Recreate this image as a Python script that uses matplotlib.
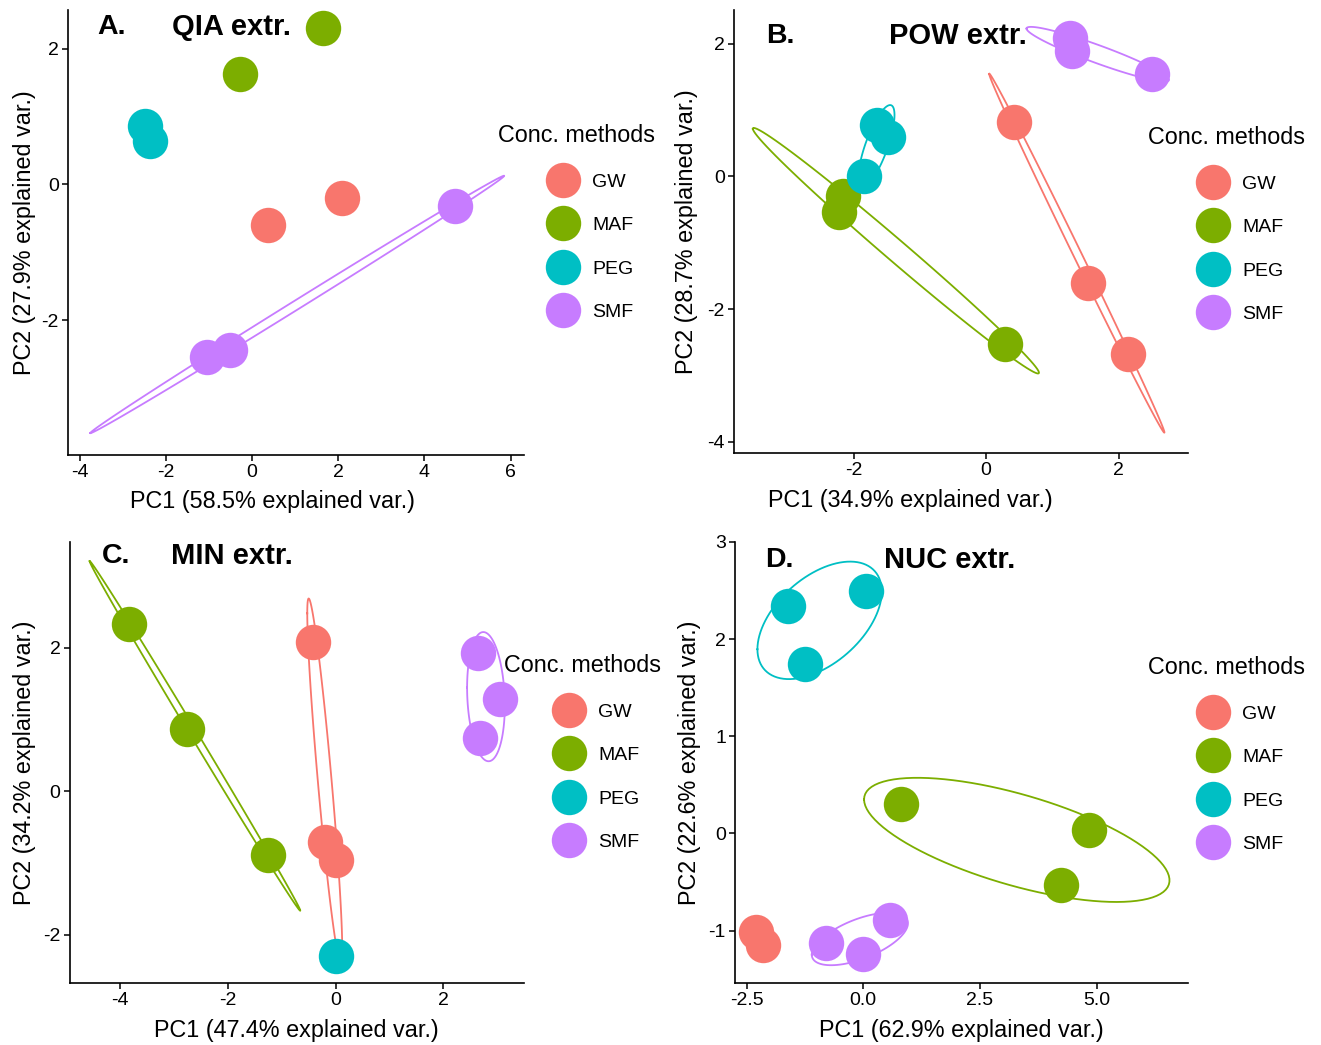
import numpy as np
import matplotlib.pyplot as plt
from matplotlib.lines import Line2D

plt.rcParams['font.family'] = ['Liberation Sans', 'DejaVu Sans']
plt.rcParams['axes.unicode_minus'] = False

W, H = 1321, 1045

methods = ["GW", "MAF", "PEG", "SMF"]
colors = ["#F8766D", "#7CAE00", "#00BFC4", "#C77CFF"]

# PCA scores, one list per method (GW, MAF, PEG, SMF)
qia_pc1 = [[2.08, 0.38], [1.65, -0.28], [-2.48, -2.37], [4.71, -1.05, -0.51]]
qia_pc2 = [[-0.20, -0.60], [2.31, 1.62], [0.86, 0.64], [-0.32, -2.55, -2.44]]

pow_pc1 = [[0.42, 1.54, 2.15], [-2.16, -2.22, 0.29], [-1.65, -1.48, -1.84], [1.26, 1.29, 2.51]]
pow_pc2 = [[0.82, -1.61, -2.68], [-0.30, -0.53, -2.53], [0.78, 0.60, 0.00], [2.09, 1.89, 1.55]]

min_pc1 = [[-0.42, -0.19, 0.01], [-3.83, -2.75, -1.25], [0.01], [2.64, 3.06, 2.68]]
min_pc2 = [[2.08, -0.70, -0.96], [2.33, 0.87, -0.89], [-2.29], [1.93, 1.28, 0.74]]

nuc_pc1 = [[-2.31, -2.14], [0.81, 4.83, 4.23], [-1.62, 0.06, -1.25], [-0.79, 0.00, 0.57]]
nuc_pc2 = [[-1.01, -1.15], [0.30, 0.03, -0.53], [2.34, 2.50, 1.74], [-1.13, -1.24, -0.89]]

letters = ["A.", "B.", "C.", "D."]
extractions = ["QIA extr.", "POW extr.", "MIN extr.", "NUC extr."]
pc1_var = [58.5, 34.9, 47.4, 62.9]
pc2_var = [27.9, 28.7, 34.2, 22.6]

panels = [(qia_pc1, qia_pc2), (pow_pc1, pow_pc2), (min_pc1, min_pc2), (nuc_pc1, nuc_pc2)]

# layout in pixels: left, top, right, bottom
boxes = [(68, 10, 524, 455), (734, 10, 1188, 453), (69.5, 542, 524, 983), (735, 542, 1188, 983)]
xlims = [(-4.27, 6.31), (-3.81, 3.05), (-4.94, 3.5), (-2.75, 6.96)]
ylims = [(-3.99, 2.57), (-4.17, 2.51), (-2.67, 3.47), (-1.54, 3.0)]
xticks = [[-4, -2, 0, 2, 4, 6], [-2, 0, 2], [-4, -2, 0, 2], [-2.5, 0, 2.5, 5.0]]
yticks = [[-2, 0, 2], [-4, -2, 0, 2], [-2, 0, 2], [-1, 0, 1, 2, 3]]
xlab_x = [273, 910, 296, 961]   # centre of the PC1 label, px
ylab_x = [25, 687, 25, 690]
letter_pos = [(97, 27), (766, 36), (102, 556), (765, 560)]
title_pos = [(172, 27), (889, 36), (171, 556), (884, 560)]
legend_pos = [(498, 135), (1148, 137), (504, 665), (1148, 667)]

ED = np.sqrt(-2 * np.log(1 - 0.68))  # sqrt(qchisq(0.68, 2))


def ellipse(x, y):
    # normal-probability ellipse as ggbiplot draws it
    pts = np.column_stack([x, y])
    sigma = np.cov(pts.T)
    mu = pts.mean(axis=0)
    theta = np.linspace(-np.pi, np.pi, 100)
    circle = np.column_stack([np.cos(theta), np.sin(theta)])
    ell = circle @ np.linalg.cholesky(sigma).T * ED + mu
    return ell[:, 0], ell[:, 1]


fig = plt.figure(figsize=(W / 100, H / 100), dpi=100)

for i, (pc1, pc2) in enumerate(panels):
    l, t, r, b = boxes[i]
    ax = fig.add_axes([l / W, 1 - b / H, (r - l) / W, (b - t) / H])
    for k, m in enumerate(methods):
        ax.plot(pc1[k], pc2[k], 'o', ms=25.5, mew=0, color=colors[k], zorder=3)
        if len(pc1[k]) > 2:
            ex, ey = ellipse(pc1[k], pc2[k])
            ax.plot(ex, ey, color=colors[k], lw=1.3, zorder=2)
    ax.set_xlim(*xlims[i])
    ax.set_ylim(*ylims[i])
    ax.set_xticks(xticks[i])
    ax.set_yticks(yticks[i])
    if i == 3:
        ax.set_xticklabels([f"{v:.1f}" for v in xticks[i]])
    for s in ['top', 'right']:
        ax.spines[s].set_visible(False)
    for s in ['left', 'bottom']:
        ax.spines[s].set_linewidth(1.2)
    ax.tick_params(labelsize=14, length=4, width=1.1, pad=2.5, colors='black')
    ax.set_xlabel(f"PC1 ({pc1_var[i]}% explained var.)", fontsize=16.8, va='center')
    ax.set_ylabel(f"PC2 ({pc2_var[i]}% explained var.)", fontsize=16.8, va='center')
    ax.xaxis.set_label_coords((xlab_x[i] - l) / (r - l), -47 / (b - t))
    ax.yaxis.set_label_coords((ylab_x[i] - l) / (r - l), 0.5)

    lx, ly = letter_pos[i]
    fig.text(lx / W, 1 - ly / H, letters[i], fontsize=20.5, fontweight='bold', va='center')
    tx, ty = title_pos[i]
    fig.text(tx / W, 1 - ty / H, extractions[i], fontsize=21, fontweight='bold', va='center')

    gx, gy = legend_pos[i]
    fig.text(gx / W, 1 - gy / H, "Conc. methods", fontsize=16.8, va='center')
    handles = [Line2D([], [], marker='o', ls='', ms=25.5, mew=0, color=c) for c in colors]
    ax.legend(handles, methods, loc='upper left', frameon=False, fontsize=14,
              bbox_to_anchor=((gx + 55) / W, 1 - (gy + 38) / H), bbox_transform=fig.transFigure,
              borderpad=0, borderaxespad=0, handlelength=1.0, handletextpad=1.0,
              labelspacing=1.33)

fig.savefig("out.png", dpi=100)
